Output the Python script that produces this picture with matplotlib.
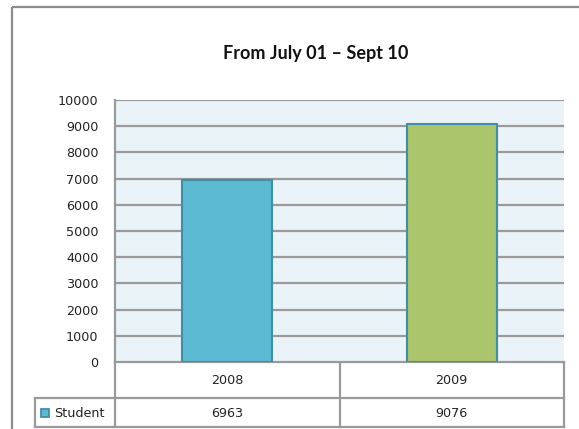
import matplotlib
matplotlib.use("Agg")
import matplotlib.pyplot as plt
from matplotlib.patches import Rectangle

title = "From July 01 \u2013 Sept 10"
categories = ["2008", "2009"]
series_name = "Student"
values = [6963, 9076]
yticks = [0, 1000, 2000, 3000, 4000, 5000, 6000, 7000, 8000, 9000, 10000]

bar_colors = ["#5BB9D2", "#ABC56C"]
edge_color = "#3F8FA6"
grid_color = "#9A9A9A"
font = "DejaVu Sans"
tfont = "Lato"
fs = 9.2

W, H = 579, 429
fig = plt.figure(figsize=(W / 100, H / 100), dpi=100)

def fx(px):
    return px / W

def fy(py):
    return 1 - py / H

# overlay axes in pixel coordinates
ov = fig.add_axes([0, 0, 1, 1], zorder=0)
ov.set_xlim(0, W)
ov.set_ylim(H, 0)
ov.axis("off")
ov.add_patch(Rectangle((12, 7), 600, 500, fill=False, edgecolor="#8C8C8C", lw=1.6))

left, right, top, bottom = 115, 564, 100, 362
ax = fig.add_axes([fx(left), fy(bottom), fx(right - left), (bottom - top) / H], zorder=2)
ax.set_facecolor("#EAF3F7")
x = list(range(len(categories)))
ax.bar(x, values, width=0.4, color=bar_colors, edgecolor=edge_color, linewidth=1.5, zorder=3)
ax.set_xlim(-0.5, len(categories) - 0.5)
ax.set_ylim(0, 10000)
ax.set_yticks(yticks)
ax.set_yticklabels([str(v) for v in yticks], fontsize=fs, family=font, color="#222222")
ax.set_xticks([])
ax.tick_params(axis="y", length=0, pad=12)
ax.grid(axis="y", color=grid_color, lw=1.6, zorder=1)
ax.set_axisbelow(True)
for s in ["top", "right", "bottom"]:
    ax.spines[s].set_visible(False)
ax.spines["left"].set_color(grid_color)
ax.spines["left"].set_linewidth(1.6)

# title
ov.text(316, 53, title, ha="center", va="center", fontsize=13,
        family=tfont, fontweight="bold", color="#111111")

# data table
tc = "#9A9A9A"
mid = (left + right) / 2
r0, r1, r2 = bottom, 398, 427
leg_left = 35
lw = 1.6
ov.plot([left, right], [r0, r0], color=tc, lw=lw, zorder=5)
ov.plot([leg_left, right], [r1, r1], color=tc, lw=lw, zorder=5)
ov.plot([leg_left, right], [r2, r2], color=tc, lw=lw, zorder=5)
ov.plot([left, left], [r0, r2], color=tc, lw=lw, zorder=5)
ov.plot([mid, mid], [r0, r2], color=tc, lw=lw, zorder=5)
ov.plot([right, right], [r0, r2], color=tc, lw=lw, zorder=5)
ov.plot([leg_left, leg_left], [r1, r2], color=tc, lw=lw, zorder=5)

centers = [left + (i + 0.5) * (right - left) / len(categories) for i in range(len(categories))]
for c, cat, v in zip(centers, categories, values):
    ov.text(c, (r0 + r1) / 2 + 1, cat, ha="center", va="center", fontsize=fs, family=font, color="#222222")
    ov.text(c, (r1 + r2) / 2 + 1, str(v), ha="center", va="center", fontsize=fs, family=font, color="#222222")
ov.add_patch(Rectangle((41, (r1 + r2) / 2 - 4), 8, 8, facecolor=bar_colors[0], edgecolor=edge_color, lw=1.3, zorder=6))
ov.text(54, (r1 + r2) / 2 + 1, series_name, ha="left", va="center", fontsize=fs, family=font, color="#222222")

fig.savefig("out.png", dpi=100)
